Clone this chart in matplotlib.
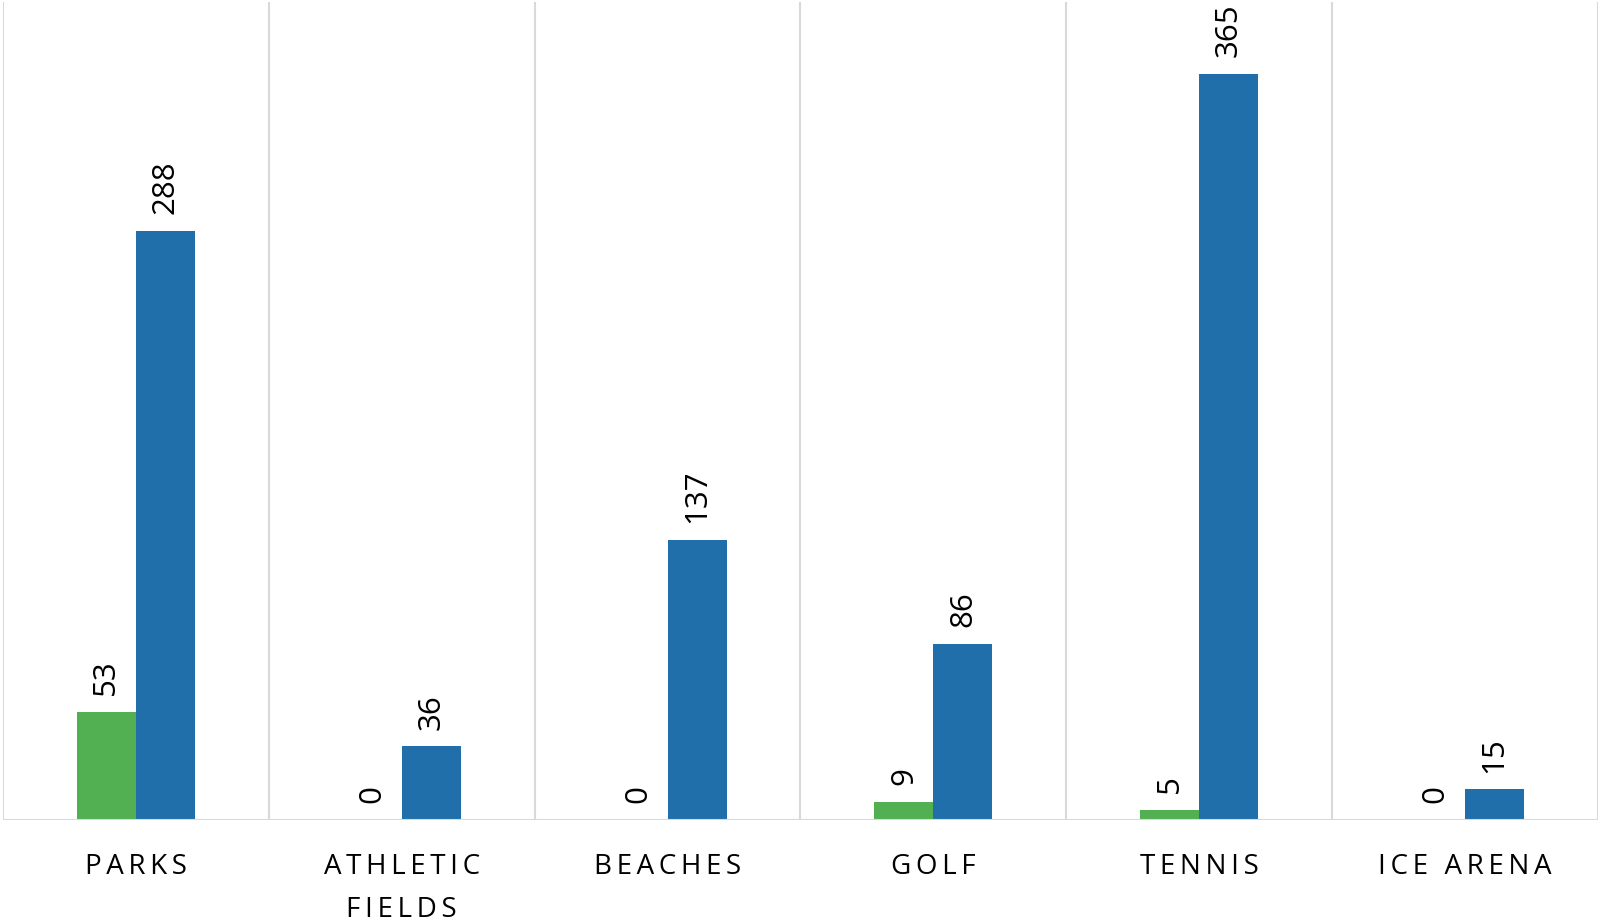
import matplotlib
matplotlib.use("Agg")
import matplotlib.pyplot as plt
import numpy as np

categories = ["PARKS", "ATHLETIC\nFIELDS", "BEACHES", "GOLF", "TENNIS", "ICE ARENA"]
green_values = [53, 0, 0, 9, 5, 0]
blue_values = [288, 36, 137, 86, 365, 15]

GREEN = "#53B052"
BLUE = "#216FAA"
GRID = "#D9D9D9"

plt.rcParams['font.family'] = ['Open Sans', 'DejaVu Sans']

fig = plt.figure(figsize=(16, 9.23), dpi=100)
ax = fig.add_axes([3/1600, 1 - 820/923, 1595/1600, 818/923])

x = np.arange(len(categories))
w = 0.222
ax.bar(x - w/2, green_values, w, color=GREEN, zorder=3)
ax.bar(x + w/2, blue_values, w, color=BLUE, zorder=3)

ax.set_xlim(-0.5, len(categories) - 0.5)
ax.set_ylim(0, 400)

for b in np.arange(len(categories) + 1) - 0.5:
    ax.axvline(b, color=GRID, lw=1.5, zorder=1)
ax.axhline(0, color=GRID, lw=1.5, zorder=4)

def spaced(s):
    return "\n".join("\u2009".join(list(line)) for line in s.split("\n"))

ax.set_xticks(x)
ax.set_xticklabels([spaced(c) for c in categories], fontsize=20, linespacing=1.7, va='top')
ax.tick_params(axis='x', length=0, pad=24)
ax.set_yticks([])
for s in ax.spines.values():
    s.set_visible(False)

for xi, g, bl in zip(x, green_values, blue_values):
    ax.annotate(str(g), (xi - w/2, g), xytext=(0, 12), textcoords='offset points',
                rotation=90, ha='center', va='bottom', fontsize=22.5, zorder=5)
    ax.annotate(str(bl), (xi + w/2, bl), xytext=(0, 12), textcoords='offset points',
                rotation=90, ha='center', va='bottom', fontsize=22.5, zorder=5)

fig.savefig("out.png", dpi=100)
